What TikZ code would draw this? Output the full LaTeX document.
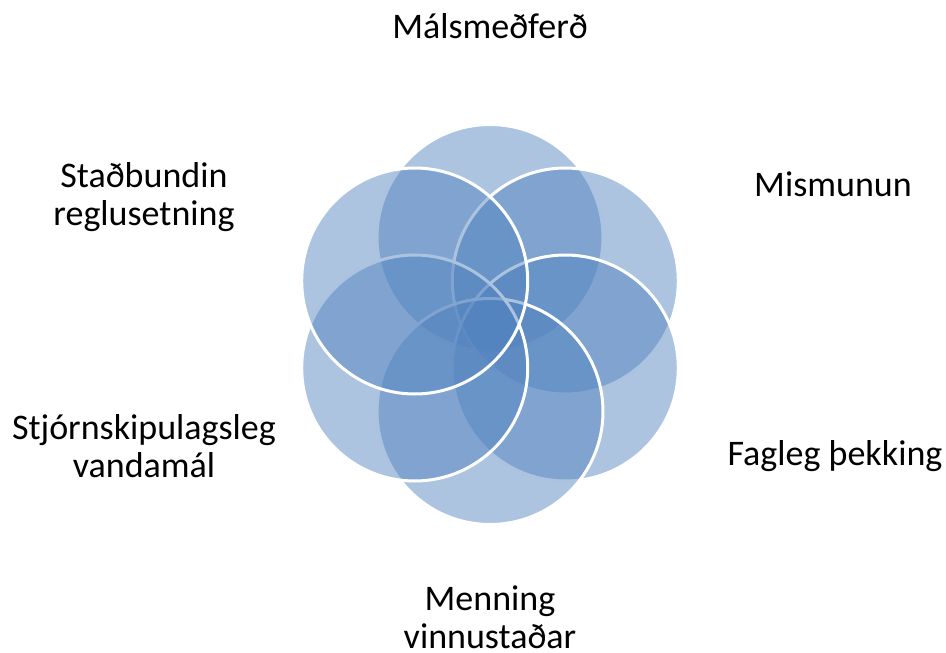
\documentclass[tikz,border=0pt]{standalone}
\usepackage{fontspec}
\setmainfont{Carlito}
\usepackage{xcolor}
\usepackage{tikz}
\definecolor{vennblue}{RGB}{79,129,189}
\tikzset{
  vennpicture/.style={x=1pt, y=-1pt},
  venncircle/.style={circle, draw=white, line width=3pt, fill=vennblue, fill opacity=0.47, draw opacity=1, minimum size=226pt, inner sep=0pt},
  vennlabel/.style={align=center, font=\fontsize{36}{38}\selectfont, inner sep=0pt, anchor=base}
}
\begin{document}
\begin{tikzpicture}[vennpicture]
\useasboundingbox (0,0) rectangle (946,653);
\node[venncircle] (top) at (490,237.5) {};
\node[venncircle] (upright) at (565.3,281) {};
\node[venncircle] (lowright) at (565.3,368) {};
\node[venncircle] (bottom) at (490,411.5) {};
\node[venncircle] (lowleft) at (414.7,368) {};
\node[venncircle] (upleft) at (414.7,281) {};
\node[vennlabel] (malsmedferd) at (490,38) {Málsmeðferð};
\node[vennlabel] (mismunun) at (833,196) {Mismunun};
\node[vennlabel] (fagleg) at (835,465) {Fagleg þekking};
\node[vennlabel] (menning) at (490,648) {Menning\\vinnustaðar};
\node[vennlabel] (stjorn) at (144,477) {Stjórnskipulagsleg\\vandamál};
\node[vennlabel] (stadbundin) at (144,225) {Staðbundin\\reglusetning};
\end{tikzpicture}
\end{document}
